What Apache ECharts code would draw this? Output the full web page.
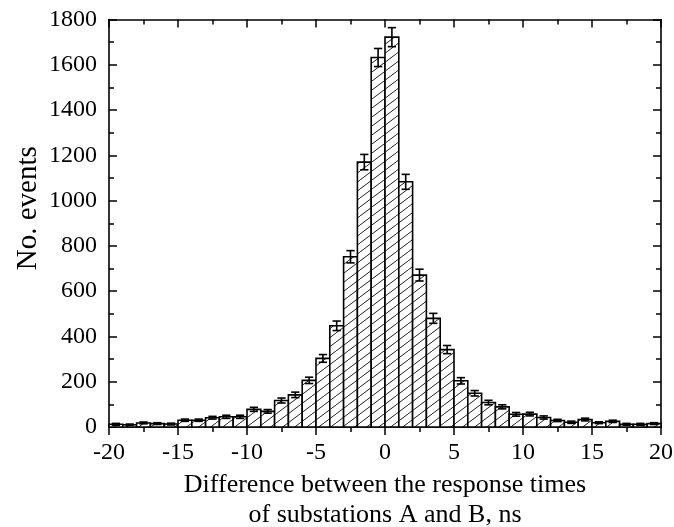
<!DOCTYPE html>
<html><head><meta charset="utf-8">
<script src="https://cdn.jsdelivr.net/npm/echarts@6/dist/echarts.min.js"></script>
<style>html,body{margin:0;padding:0;background:#fff}#c{width:674px;height:527px}</style>
</head><body><div id="c"></div>
<script>
// Bin left edges (ns), bin width 1 ns
const binStart = [-20,-19,-18,-17,-16,-15,-14,-13,-12,-11,-10,-9,-8,-7,-6,-5,-4,-3,-2,-1,0,1,2,3,4,5,6,7,8,9,10,11,12,13,14,15,16,17,18,19];
// Number of events per bin
const counts = [12,10,18,15,13,30,30,41,45,45,78,69,117,142,206,303,447,752,1170,1632,1722,1083,671,480,342,204,149,108,89,56,57,42,29,21,33,19,25,12,12,15];
// Error bar half-heights
const errors = [4,3,4,4,4,5,5,6,7,7,9,8,11,12,14,17,21,27,34,40,42,33,26,22,18,14,12,10,9,8,8,7,5,5,6,4,5,4,4,4];
const xTickLabels = [-20,-15,-10,-5,0,5,10,15,20];
const yTickLabels = [0,200,400,600,800,1000,1200,1400,1600,1800];

const binWidth = 1;
const FONT = 'Liberation Serif';

function hatchCanvas(){
  const w = 12, h = 9;
  const c = document.createElement('canvas');
  c.width = w; c.height = h;
  const g = c.getContext('2d');
  g.fillStyle = '#fff'; g.fillRect(0,0,w,h);
  g.strokeStyle = '#222'; g.lineWidth = 1;
  g.beginPath(); g.moveTo(-1, h + 0.75); g.lineTo(w + 1, -0.75); g.stroke();
  return c;
}
const pattern = {image: hatchCanvas(), repeat: 'repeat'};

const chart = echarts.init(document.getElementById('c'), null, {renderer: 'canvas'});
const axisLineStyle = {color: '#000', width: 1.6};
const tickStyle = {color: '#000', width: 1.5};
const xMin = xTickLabels[0], xMax = xTickLabels[xTickLabels.length-1];
const xInt = xTickLabels[1] - xTickLabels[0];
const yMin = yTickLabels[0], yMax = yTickLabels[yTickLabels.length-1];
const yInt = yTickLabels[1] - yTickLabels[0];
const plain = v => String(v);

const data = binStart.map((s,i) => [s, counts[i], errors[i]]);

chart.setOption({
  animation: false,
  backgroundColor: '#fff',
  grid: {left: 109, right: 13, top: 19.5, bottom: 100, containLabel: false, outerBoundsMode: 'none'},
  xAxis: [{
    type: 'value', position: 'bottom', min: xMin, max: xMax, interval: xInt,
    axisLine: {show: true, onZero: false, lineStyle: axisLineStyle},
    axisTick: {show: true, inside: false, length: 8, lineStyle: tickStyle},
    minorTick: {show: true, splitNumber: 2, length: 5, lineStyle: tickStyle},
    splitLine: {show: false},
    axisLabel: {color: '#000', fontFamily: FONT, fontSize: 24, margin: 14, formatter: plain},
    name: 'Difference between the response times\nof substations A and B, ns',
    nameLocation: 'middle', nameGap: 42,
    nameTextStyle: {color: '#000', fontFamily: FONT, fontSize: 26, lineHeight: 30, verticalAlign: 'top'}
  },{
    type: 'value', position: 'top', min: xMin, max: xMax, interval: xInt,
    axisLine: {show: true, onZero: false, lineStyle: axisLineStyle},
    axisTick: {show: true, inside: true, length: 8, lineStyle: tickStyle},
    minorTick: {show: true, splitNumber: 2, length: 5, lineStyle: tickStyle},
    splitLine: {show: false}, axisLabel: {show: false}
  }],
  yAxis: [{
    type: 'value', position: 'left', min: yMin, max: yMax, interval: yInt,
    axisLine: {show: true, onZero: false, lineStyle: axisLineStyle},
    axisTick: {show: true, inside: true, length: 8, lineStyle: tickStyle},
    minorTick: {show: true, splitNumber: 2, length: 5, lineStyle: tickStyle},
    splitLine: {show: false},
    axisLabel: {color: '#000', fontFamily: FONT, fontSize: 24, margin: 12, formatter: plain},
    name: 'No. events', nameLocation: 'middle', nameGap: 66, nameRotate: 90, nameMoveOverlap: false,
    nameTextStyle: {color: '#000', fontFamily: FONT, fontSize: 29, padding: [0, 0, 0, 30]}
  },{
    type: 'value', position: 'right', min: yMin, max: yMax, interval: yInt,
    axisLine: {show: true, onZero: false, lineStyle: axisLineStyle},
    axisTick: {show: true, inside: true, length: 8, lineStyle: tickStyle},
    minorTick: {show: true, splitNumber: 2, length: 5, lineStyle: tickStyle},
    splitLine: {show: false}, axisLabel: {show: false}
  }],
  series: [{
    type: 'custom', xAxisIndex: 0, yAxisIndex: 0, z: 2,
    data: data, encode: {x: 0, y: 1},
    renderItem: function(params, api){
      const s = api.value(0), v = api.value(1);
      const p0 = api.coord([s, 0]);
      const p1 = api.coord([s + binWidth, v]);
      return {type: 'rect',
        shape: {x: p0[0], y: p1[1], width: p1[0] - p0[0], height: p0[1] - p1[1]},
        style: {fill: pattern, stroke: '#000', lineWidth: 1.6}};
    }
  },{
    type: 'custom', xAxisIndex: 0, yAxisIndex: 0, z: 3,
    data: data, encode: {x: 0, y: 1},
    renderItem: function(params, api){
      const s = api.value(0), v = api.value(1), e = api.value(2);
      const c = s + binWidth / 2;
      const top = api.coord([c, v + e]);
      const bot = api.coord([c, v - e]);
      const half = api.size([binWidth, 0])[0] * 0.3;
      const st = {stroke: '#000', lineWidth: 1.6};
      return {type: 'group', children: [
        {type: 'line', shape: {x1: top[0], y1: top[1], x2: bot[0], y2: bot[1]}, style: st},
        {type: 'line', shape: {x1: top[0]-half, y1: top[1], x2: top[0]+half, y2: top[1]}, style: st},
        {type: 'line', shape: {x1: bot[0]-half, y1: bot[1], x2: bot[0]+half, y2: bot[1]}, style: st}
      ]};
    }
  }]
});
</script>
</body></html>
